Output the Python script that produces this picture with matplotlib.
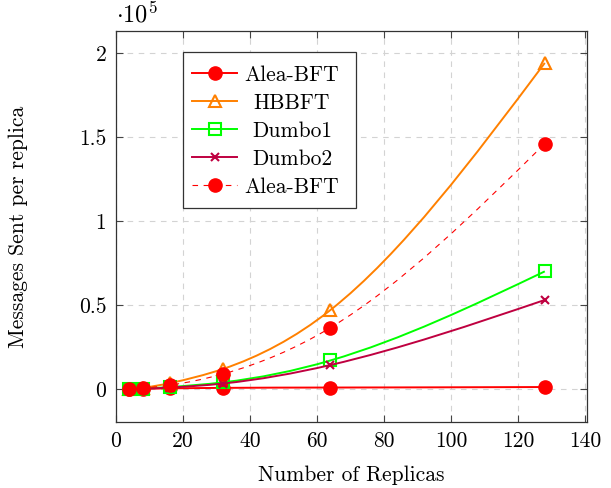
import numpy as np
import matplotlib
matplotlib.use('Agg')
import matplotlib.pyplot as plt
from matplotlib.path import Path
from matplotlib.patches import PathPatch, Rectangle
from matplotlib.lines import Line2D
from matplotlib.ticker import FixedLocator, FixedFormatter

plt.rcParams['font.family'] = 'serif'
plt.rcParams['font.serif'] = ['cmr10', 'DejaVu Serif']
plt.rcParams['mathtext.fontset'] = 'cm'
plt.rcParams['axes.unicode_minus'] = False

replicas = [4, 8, 16, 32, 64, 128]
alea = [100, 200, 400, 700, 900, 1200]
hbbft = [200, 800, 3500, 12000, 47000, 194000]
dumbo1 = [100, 300, 1200, 4000, 17000, 70000]
dumbo2 = [100, 250, 900, 3300, 14300, 53000]
alea_est = [150, 600, 2300, 9000, 36500, 146000]

yticks = [0, 50000, 100000, 150000, 200000]
ytick_labels = ['0', '0.5', '1', '1.5', '2']
xticks = [0, 20, 40, 60, 80, 100, 120, 140]

red = '#FF0000'
orange = '#FF8000'
green = '#00FF00'
purple = '#BF0040'
FS = 15.5

W, H = 611, 488
AX_L, AX_R, AX_T, AX_B = 116, 587, 31, 422  # axes box in pixels


def smooth_path(xs, ys):
    # natural cubic spline through the points, drawn as bezier segments
    x = np.asarray(xs, float)
    y = np.asarray(ys, float)
    n = len(x)
    h = np.diff(x)
    s = np.diff(y) / h
    A = np.zeros((n, n))
    b = np.zeros(n)
    A[0, 0] = A[-1, -1] = 1.0
    for i in range(1, n - 1):
        A[i, i - 1] = h[i - 1]
        A[i, i] = 2 * (h[i - 1] + h[i])
        A[i, i + 1] = h[i]
        b[i] = 6 * (s[i] - s[i - 1])
    M = np.linalg.solve(A, b)
    m = np.empty(n)
    m[:-1] = s - h * (2 * M[:-1] + M[1:]) / 6
    m[-1] = s[-1] + h[-1] * (M[-2] + 2 * M[-1]) / 6
    verts = [(x[0], y[0])]
    codes = [Path.MOVETO]
    for i in range(n - 1):
        d = h[i] / 3.0
        verts += [(x[i] + d, y[i] + d * m[i]), (x[i + 1] - d, y[i + 1] - d * m[i + 1]),
                  (x[i + 1], y[i + 1])]
        codes += [Path.CURVE4] * 3
    return Path(verts, codes)


def ax_x(px):
    return (px - AX_L) / (AX_R - AX_L)


def ax_y(py):
    return (AX_B - py) / (AX_B - AX_T)


fig = plt.figure(figsize=(W / 100, H / 100), dpi=100)
ax = fig.add_axes([AX_L / W, 1 - AX_B / H, (AX_R - AX_L) / W, (AX_B - AX_T) / H])

series = [
    (alea, red, 'o', 'solid', 1.4, dict(markersize=9.5, markerfacecolor=red, markeredgecolor=red), 'Alea-BFT'),
    (hbbft, orange, '^', 'solid', 1.4, dict(markersize=8, markerfacecolor='none', markeredgecolor=orange, markeredgewidth=1.5), 'HBBFT'),
    (dumbo1, green, 's', 'solid', 1.4, dict(markersize=9, markerfacecolor='none', markeredgecolor=green, markeredgewidth=1.5), 'Dumbo1'),
    (dumbo2, purple, 'x', 'solid', 1.4, dict(markersize=6, markeredgecolor=purple, markeredgewidth=1.5), 'Dumbo2'),
    (alea_est, red, 'o', (0, (5, 5)), 0.8, dict(markersize=9.5, markerfacecolor=red, markeredgecolor=red), 'Alea-BFT'),
]

for i, (vals, col, mk, ls, lw, mkw, lab) in enumerate(series):
    patch = PathPatch(smooth_path(replicas, vals), facecolor='none', edgecolor=col,
                      linewidth=lw, linestyle=ls, zorder=2 + i)
    ax.add_patch(patch)
    ax.plot(replicas, vals, linestyle='none', marker=mk, zorder=2 + i, **mkw)

ax.set_xlim(0, 140.6)
ax.set_ylim(-19600, 213000)
ax.xaxis.set_major_locator(FixedLocator(xticks))
ax.yaxis.set_major_locator(FixedLocator(yticks))
ax.yaxis.set_major_formatter(FixedFormatter(ytick_labels))
ax.tick_params(direction='in', top=True, right=True, length=5, width=0.8,
               labelsize=FS, color='#444444', pad=7)
ax.grid(True, color='#d3d3d3', linestyle=(0, (5, 5)), linewidth=0.8)
ax.set_axisbelow(True)
for s in ax.spines.values():
    s.set_linewidth(0.9)
    s.set_color('#333333')

ax.set_xlabel('Number of Replicas', fontsize=FS)
ax.set_ylabel('Messages Sent per replica', fontsize=FS)
ax.xaxis.set_label_coords(0.5, ax_y(465))
ax.yaxis.set_label_coords(ax_x(28), 0.5)
ax.text(0.0, ax_y(27), r'$\cdot 10^5$', transform=ax.transAxes, fontsize=FS + 2,
        ha='left', va='bottom')

# legend drawn by hand so the entries are centred like pgfplots
box = Rectangle((ax_x(183), ax_y(208)), ax_x(356) - ax_x(183), ax_y(52) - ax_y(208),
                transform=ax.transAxes, facecolor='white', edgecolor='#333333',
                linewidth=0.9, zorder=20)
ax.add_patch(box)
rows = [73, 101, 129, 157, 185]
for (vals, col, mk, ls, lw, mkw, lab), ry in zip(series, rows):
    yy = ax_y(ry)
    ax.add_line(Line2D([ax_x(192), ax_x(237)], [yy, yy], transform=ax.transAxes,
                       color=col, linewidth=lw, linestyle=ls, zorder=21))
    ax.add_line(Line2D([ax_x(215)], [yy], transform=ax.transAxes, linestyle='none',
                       marker=mk, zorder=22, **mkw))
    ax.text(ax_x(292), yy, lab, transform=ax.transAxes, fontsize=FS,
            ha='center', va='center_baseline', zorder=22)

fig.savefig('out.png', dpi=100)
